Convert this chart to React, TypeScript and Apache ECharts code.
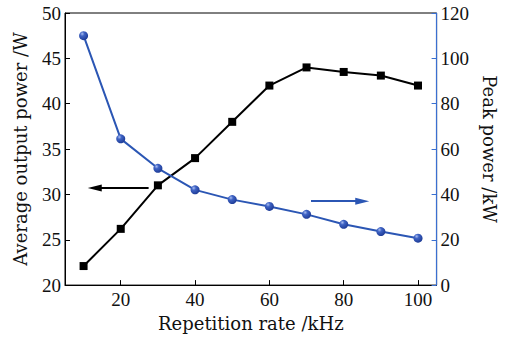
import React, { useEffect, useRef } from "react";
import * as echarts from "echarts";

const rates = [10, 20, 30, 40, 50, 60, 70, 80, 90, 100];
const avgPower = [22.1, 26.2, 31.0, 34.0, 38.0, 42.0, 44.0, 43.5, 43.1, 42.0];
const peakPower = [110.0, 64.5, 51.5, 42.0, 37.7, 34.7, 31.2, 26.8, 23.6, 20.7];
const xTicks = [20, 40, 60, 80, 100];

const NAME_FONT = "'DejaVu Serif', serif";
const TICK_FONT = "'Liberation Serif', serif";
const BLUE = "#2b56b4";

export default function App() {
  const ref = useRef<HTMLDivElement>(null);
  useEffect(() => {
    if (!ref.current) return;
    const chart = echarts.init(ref.current, undefined, { renderer: "svg" });
    const sphere = new echarts.graphic.RadialGradient(0.35, 0.3, 0.7, [
      { offset: 0, color: "#a9bdf0" },
      { offset: 0.35, color: "#3f63c4" },
      { offset: 1, color: "#1f3d98" },
    ]);
    const nameStyle = { fontFamily: NAME_FONT, fontSize: 18, color: "#111" };
    const tickLabel = { fontFamily: TICK_FONT, fontSize: 19, color: "#111" };
    chart.setOption({
      animation: false,
      backgroundColor: "#ffffff",
      grid: { left: 65, right: 68, top: 13, bottom: 48, show: true, borderColor: "#000", borderWidth: 1 },
      xAxis: {
        type: "value",
        min: 5,
        max: 105,
        name: "Repetition rate /kHz",
        nameLocation: "middle",
        nameGap: 22,
        nameTextStyle: nameStyle,
        axisLine: { lineStyle: { color: "#000", width: 1 } },
        axisTick: { inside: true, length: 5, customValues: xTicks, lineStyle: { color: "#000" } },
        axisLabel: { ...tickLabel, customValues: xTicks, margin: 5 },
        splitLine: { show: false },
      },
      yAxis: [
        {
          type: "value",
          min: 20,
          max: 50,
          interval: 5,
          name: "Average output power /W",
          nameLocation: "middle",
          nameGap: 36,
          nameTextStyle: nameStyle,
          axisLine: { show: true, lineStyle: { color: "#000" } },
          axisTick: { inside: true, length: 5, lineStyle: { color: "#000" } },
          axisLabel: { ...tickLabel, margin: 4 },
          splitLine: { show: false },
        },
        {
          type: "value",
          min: 0,
          max: 120,
          interval: 20,
          name: "Peak power /kW",
          nameLocation: "middle",
          nameGap: 42,
          nameRotate: -90,
          nameTextStyle: nameStyle,
          axisLine: { show: true, lineStyle: { color: "#3a6fd0", width: 1.2 } },
          axisTick: { inside: true, length: 5, lineStyle: { color: "#3a6fd0" } },
          axisLabel: { ...tickLabel, margin: 4 },
          splitLine: { show: false },
        },
      ],
      series: [
        {
          type: "line",
          yAxisIndex: 0,
          data: rates.map((r, i) => [r, avgPower[i]]),
          symbol: "rect",
          symbolSize: 8,
          showAllSymbol: true,
          lineStyle: { color: "#000", width: 2 },
          itemStyle: { color: "#000" },
          markLine: {
            silent: true,
            symbol: ["none", "triangle"],
            symbolSize: [7, 14],
            label: { show: false },
            lineStyle: { color: "#000", width: 2, type: "solid" },
            data: [[{ coord: [27.5, 30.7] }, { coord: [13.0, 30.7] }]],
          },
        },
        {
          type: "line",
          yAxisIndex: 1,
          data: rates.map((r, i) => [r, peakPower[i]]),
          symbol: "circle",
          symbolSize: 9,
          showAllSymbol: true,
          lineStyle: { color: BLUE, width: 2 },
          itemStyle: { color: sphere },
          markLine: {
            silent: true,
            symbol: ["none", "triangle"],
            symbolSize: [7, 14],
            label: { show: false },
            lineStyle: { color: BLUE, width: 2, type: "solid" },
            data: [[{ coord: [71.2, 37] }, { coord: [85.0, 37] }]],
          },
        },
      ],
    });
    return () => chart.dispose();
  }, []);
  return <div ref={ref} style={{ position: "absolute", left: 0, top: 0, width: 506, height: 337 }} />;
}
